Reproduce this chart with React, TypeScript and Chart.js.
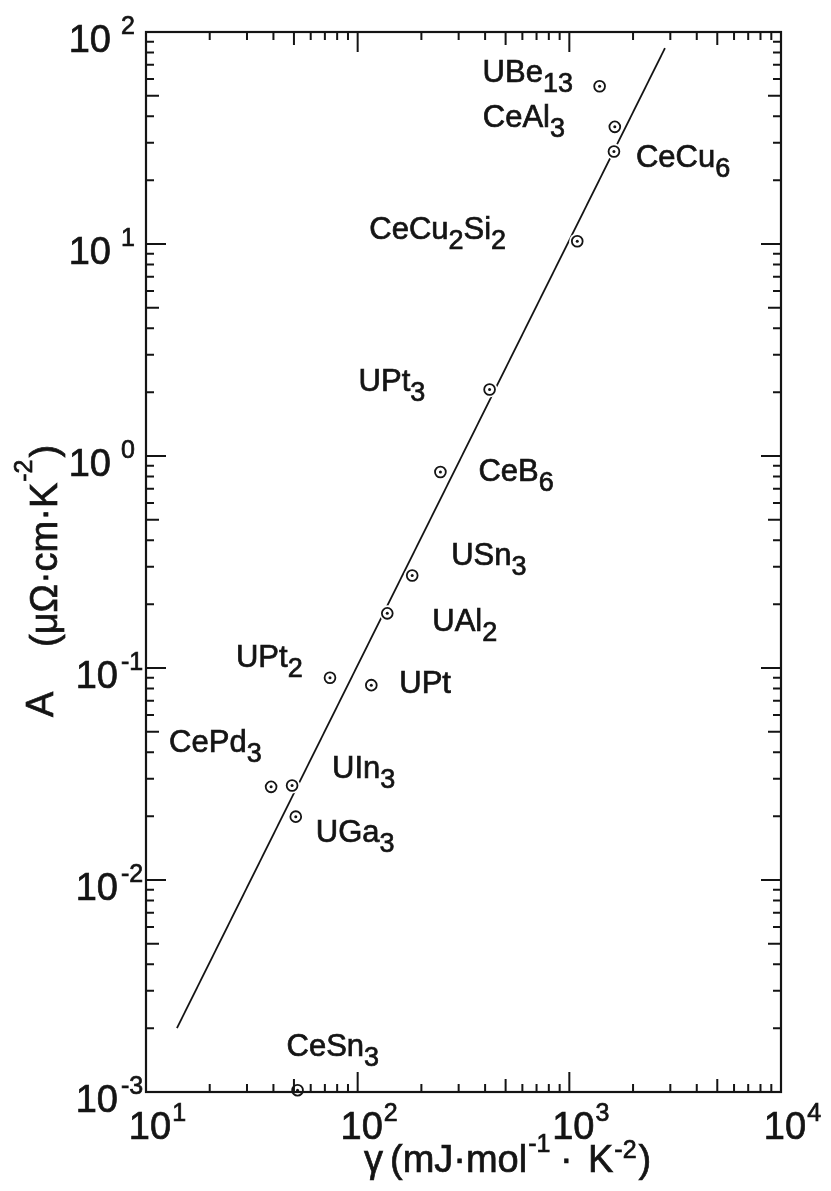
import { useEffect, useRef } from 'react';
import { Chart, registerables } from 'chart.js';

Chart.register(...registerables);

// Heavy-fermion compounds: electronic specific-heat coefficient γ vs T² resistivity coefficient A
const compounds = ['UBe13', 'CeAl3', 'CeCu6', 'CeCu2Si2', 'UPt3', 'CeB6', 'USn3', 'UAl2', 'UPt2', 'UPt', 'CePd3', 'UIn3', 'UGa3', 'CeSn3'];
const gammaValues = [1390, 1640, 1625, 1090, 420, 246, 181, 138, 74, 116, 39, 49, 51, 52];
const aValues = [55.5, 35.7, 27.3, 10.3, 2.06, 0.84, 0.273, 0.181, 0.09, 0.083, 0.0275, 0.0279, 0.0199, 0.00102];

// End points of the straight line A ∝ γ²
const lineGamma = [14, 2830];
const lineA = [0.002, 84];

// Decade exponents carrying tick labels
const xExponents = ['1', '2', '3', '4'];
const yExponents = ['-3', '-2', '-1', '0', '1', '2'];

// Label placement relative to each marker (baseline start, px)
const labelOffsets: Record<string, [number, number]> = {
  UBe13: [-117, -4],
  CeAl3: [-132, 0],
  CeCu6: [22, 15],
  CeCu2Si2: [-208, -2],
  UPt3: [-131, 2],
  CeB6: [38, 9],
  USn3: [39, -11],
  UAl2: [45, 18],
  UPt2: [-94, -11],
  UPt: [28, 8],
  CePd3: [-102, -35],
  UIn3: [40, -8],
  UGa3: [20, 25],
  CeSn3: [-11, -34],
};

const INK = '#141414';
const FAM = '"Liberation Sans", Arial, Helvetica, sans-serif';

// filled text with a thin outline for a slightly heavier stroke
function txt(ctx: CanvasRenderingContext2D, s: string, x: number, y: number, size: number) {
  ctx.font = `${size}px ${FAM}`;
  ctx.fillText(s, x, y);
  ctx.lineWidth = 0.7;
  ctx.strokeText(s, x, y);
  return ctx.measureText(s).width;
}

function drawFormula(ctx: CanvasRenderingContext2D, text: string, x: number, y: number) {
  const parts = text.match(/\d+|\D+/g) || [];
  let cx = x;
  for (const p of parts) {
    const sub = /\d/.test(p[0]);
    cx += txt(ctx, p, cx, sub ? y + 10 : y, sub ? 27 : 31);
  }
}

const framePlugin = {
  id: 'frameAndText',
  afterDatasetsDraw(chart: any) {
    const ctx: CanvasRenderingContext2D = chart.ctx;
    const { left, right, top, bottom } = chart.chartArea;
    const xs = chart.scales.x;
    const ys = chart.scales.y;
    ctx.save();
    ctx.strokeStyle = INK;
    ctx.fillStyle = INK;
    ctx.lineCap = 'butt';

    // frame
    ctx.lineWidth = 2.2;
    ctx.strokeRect(left, top, right - left, bottom - top);

    // inward ticks on all four sides
    ctx.lineWidth = 2;
    const len = (m: number) => (m === 1 ? 20 : m === 5 ? 13 : 8);
    ctx.beginPath();
    for (let e = 1; e <= 3; e++) {
      for (let m = 1; m <= 9; m++) {
        if (e === 1 && m === 1) continue;
        const px = xs.getPixelForValue(m * Math.pow(10, e));
        ctx.moveTo(px, bottom);
        ctx.lineTo(px, bottom - len(m));
        ctx.moveTo(px, top);
        ctx.lineTo(px, top + len(m));
      }
    }
    for (let e = -3; e <= 1; e++) {
      for (let m = 1; m <= 9; m++) {
        if (e === -3 && m === 1) continue;
        const py = ys.getPixelForValue(m * Math.pow(10, e));
        ctx.moveTo(left, py);
        ctx.lineTo(left + len(m), py);
        ctx.moveTo(right, py);
        ctx.lineTo(right - len(m), py);
      }
    }
    ctx.stroke();

    // tick labels
    ctx.textBaseline = 'alphabetic';
    ctx.textAlign = 'left';
    for (const ex of yExponents) {
      const py = ys.getPixelForValue(Math.pow(10, Number(ex)));
      const supX = 121;
      ctx.font = `38px ${FAM}`;
      const w = ctx.measureText('10').width;
      const mainX = supX - (ex.startsWith('-') ? 3 : 10) - w;
      txt(ctx, '10', mainX, py + 20, 38);
      txt(ctx, ex, supX, py + 2, 25);
    }
    for (const ex of xExponents) {
      const px = xs.getPixelForValue(Math.pow(10, Number(ex)));
      ctx.font = `38px ${FAM}`;
      const w = ctx.measureText('10').width;
      const mainX = px + 4 - w / 2;
      txt(ctx, '10', mainX, bottom + 47, 38);
      txt(ctx, ex, mainX + w + 1, bottom + 29, 25);
    }

    // x axis title
    const tb = bottom + 80;
    txt(ctx, 'γ', 364, tb, 38);
    let cx = 390 + txt(ctx, '(mJ·mol', 390, tb, 38) + 1;
    txt(ctx, '-1', cx, tb - 20, 25);
    txt(ctx, '·', 560, tb, 38);
    cx = 588 + txt(ctx, 'K', 588, tb, 38) + 1;
    cx += txt(ctx, '-2', cx, tb - 14, 25) + 2;
    txt(ctx, ')', cx, tb, 38);

    // y axis title, reading upward
    ctx.save();
    ctx.translate(57, 717);
    ctx.rotate(-Math.PI / 2);
    txt(ctx, 'A', 0, -4, 38);
    let u = 70 + txt(ctx, '(μΩ·cm·K', 70, 0, 38) + 1;
    u += txt(ctx, '-2', u, -25, 25) + 2;
    txt(ctx, ')', u, 0, 38);
    ctx.restore();

    // compound labels
    compounds.forEach((name, i) => {
      const px = xs.getPixelForValue(gammaValues[i]);
      const py = ys.getPixelForValue(aValues[i]);
      const [dx, dy] = labelOffsets[name];
      drawFormula(ctx, name, px + dx, py + dy);
    });

    ctx.restore();
  },
};

export default function App() {
  const canvasRef = useRef<HTMLCanvasElement | null>(null);

  useEffect(() => {
    const canvas = canvasRef.current;
    if (!canvas) return;
    const pts = gammaValues.map((g, i) => ({ x: g, y: aValues[i] }));
    const linePts = lineGamma.map((g, i) => ({ x: g, y: lineA[i] }));
    const chart = new Chart(canvas, {
      type: 'scatter',
      data: {
        datasets: [
          {
            type: 'line',
            label: 'A/γ² = const',
            data: linePts,
            borderColor: INK,
            borderWidth: 1.8,
            pointRadius: 0,
            fill: false,
            order: 3,
          } as any,
          {
            label: 'halo',
            data: pts,
            pointRadius: 8,
            pointBackgroundColor: '#ffffff',
            pointBorderColor: 'rgba(0,0,0,0)',
            pointBorderWidth: 0,
            order: 2,
            clip: false,
          },
          {
            label: 'compounds',
            data: pts,
            pointRadius: 5.4,
            pointBackgroundColor: '#ffffff',
            pointBorderColor: INK,
            pointBorderWidth: 1.8,
            order: 1,
            clip: false,
          },
          {
            label: 'centres',
            data: pts,
            pointRadius: 1.5,
            pointBackgroundColor: INK,
            pointBorderColor: INK,
            pointBorderWidth: 0,
            order: 0,
            clip: false,
          },
        ],
      },
      options: {
        animation: false,
        responsive: true,
        maintainAspectRatio: false,
        events: [],
        layout: { padding: { left: 146, top: 32, right: 50, bottom: 99 } },
        plugins: { legend: { display: false }, tooltip: { enabled: false } },
        scales: {
          x: { type: 'logarithmic', min: 10, max: 10000, display: false },
          y: { type: 'logarithmic', min: 0.001, max: 100, display: false },
        },
      },
      plugins: [framePlugin],
    });
    return () => chart.destroy();
  }, []);

  return (
    <div style={{ position: 'fixed', left: 0, top: 0, width: 831, height: 1191, background: '#ffffff' }}>
      <canvas ref={canvasRef} />
    </div>
  );
}
